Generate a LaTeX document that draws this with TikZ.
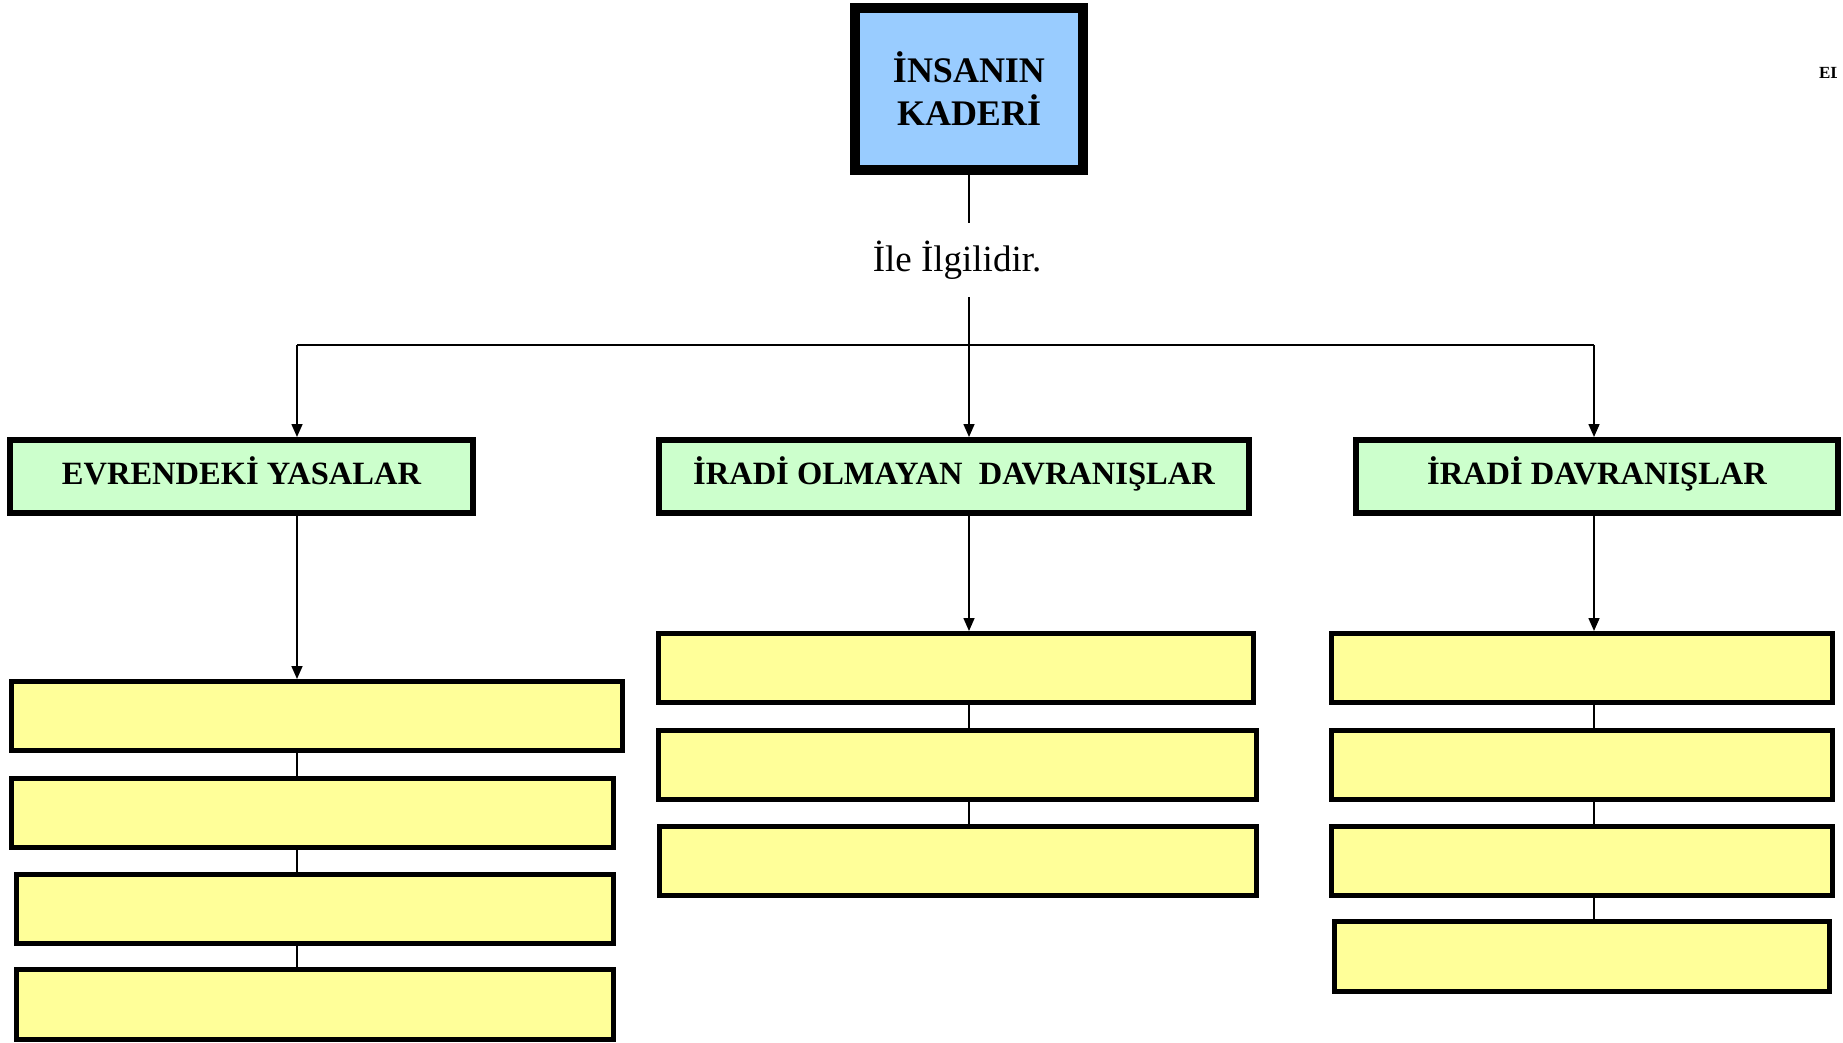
\documentclass[tikz,border=0pt]{standalone}
\usepackage{fontspec}
\setmainfont{Liberation Serif}
\usetikzlibrary{arrows.meta}
\definecolor{topblue}{HTML}{99CCFF}
\definecolor{boxgreen}{HTML}{CCFFCC}
\definecolor{boxyellow}{HTML}{FFFF99}
\begin{document}
\begin{tikzpicture}[x=1pt,y=-1pt,
  topbox/.style={draw=black,line width=10pt,fill=topblue,inner sep=0pt,align=center,
    font=\bfseries\fontsize{36}{43}\selectfont},
  greenbox/.style={draw=black,line width=6pt,fill=boxgreen,inner sep=0pt,minimum height=73pt,
    text height=23pt,text depth=8pt,
    font=\bfseries\fontsize{32.5}{36}\selectfont},
  yellowbox/.style={draw=black,line width=5pt,fill=boxyellow,inner sep=0pt,minimum height=69pt},
  conn/.style={draw=black,line width=1.6pt},
  arr/.style={conn,-{Triangle[length=13pt,width=11pt]}}
]
\useasboundingbox (0,0) rectangle (1843,1043);

% top
\node[topbox,minimum width=228pt,minimum height=162pt] (top) at (969,89) {İNSANIN\\KADERİ};
\node[inner sep=0pt,minimum height=74pt,font=\fontsize{37}{43}\selectfont] (lab) at (957,260) {İle İlgilidir.};

% hub coordinates
\coordinate (hL) at (297,345);
\coordinate (hM) at (969,345);
\coordinate (hR) at (1594,345);

% green boxes
\node[greenbox,minimum width=463pt] (g1) at (241.5,476.5) {EVRENDEKİ YASALAR};
\node[greenbox,minimum width=590pt] (g2) at (954,476.5) {İRADİ OLMAYAN\ \ DAVRANIŞLAR};
\node[greenbox,minimum width=482pt] (g3) at (1597,476.5) {İRADİ DAVRANIŞLAR};

% yellow boxes left
\node[yellowbox,minimum width=611pt] (l1) at (317,716) {};
\node[yellowbox,minimum width=602pt] (l2) at (312.5,813) {};
\node[yellowbox,minimum width=597pt] (l3) at (315,909) {};
\node[yellowbox,minimum width=597pt,minimum height=70pt] (l4) at (315,1004) {};
% middle
\node[yellowbox,minimum width=595pt] (m1) at (956,668) {};
\node[yellowbox,minimum width=598pt] (m2) at (957.5,765) {};
\node[yellowbox,minimum width=597pt] (m3) at (958,861) {};
% right
\node[yellowbox,minimum width=501pt] (r1) at (1582,668) {};
\node[yellowbox,minimum width=501pt] (r2) at (1582,765) {};
\node[yellowbox,minimum width=501pt] (r3) at (1582,861) {};
\node[yellowbox,minimum width=495pt,minimum height=70pt] (r4) at (1582,956.5) {};

% cut-off text at right edge
\begin{scope}
\clip (1800,50) rectangle (1836,100);
\node[anchor=base west,inner sep=0pt,font=\bfseries\fontsize{17}{20}\selectfont] (el) at (1819,79) {EL};
\end{scope}

% connectors
\draw[conn] (top.south) -- (top.south |- lab.north);
\draw[conn] (top.south |- lab.south) -- (hM);
\draw[conn] (hL) -- (hR);
\draw[arr] (hL) -- (hL |- g1.north);
\draw[arr] (hM) -- (hM |- g2.north);
\draw[arr] (hR) -- (hR |- g3.north);

\draw[arr] (g1.south -| hL) -- (l1.north -| hL);
\draw[arr] (g2.south -| hM) -- (m1.north -| hM);
\draw[arr] (g3.south -| hR) -- (r1.north -| hR);

\draw[conn] (l1.south -| hL) -- (l2.north -| hL);
\draw[conn] (l2.south -| hL) -- (l3.north -| hL);
\draw[conn] (l3.south -| hL) -- (l4.north -| hL);

\draw[conn] (m1.south -| hM) -- (m2.north -| hM);
\draw[conn] (m2.south -| hM) -- (m3.north -| hM);

\draw[conn] (r1.south -| hR) -- (r2.north -| hR);
\draw[conn] (r2.south -| hR) -- (r3.north -| hR);
\draw[conn] (r3.south -| hR) -- (r4.north -| hR);
\end{tikzpicture}
\end{document}
